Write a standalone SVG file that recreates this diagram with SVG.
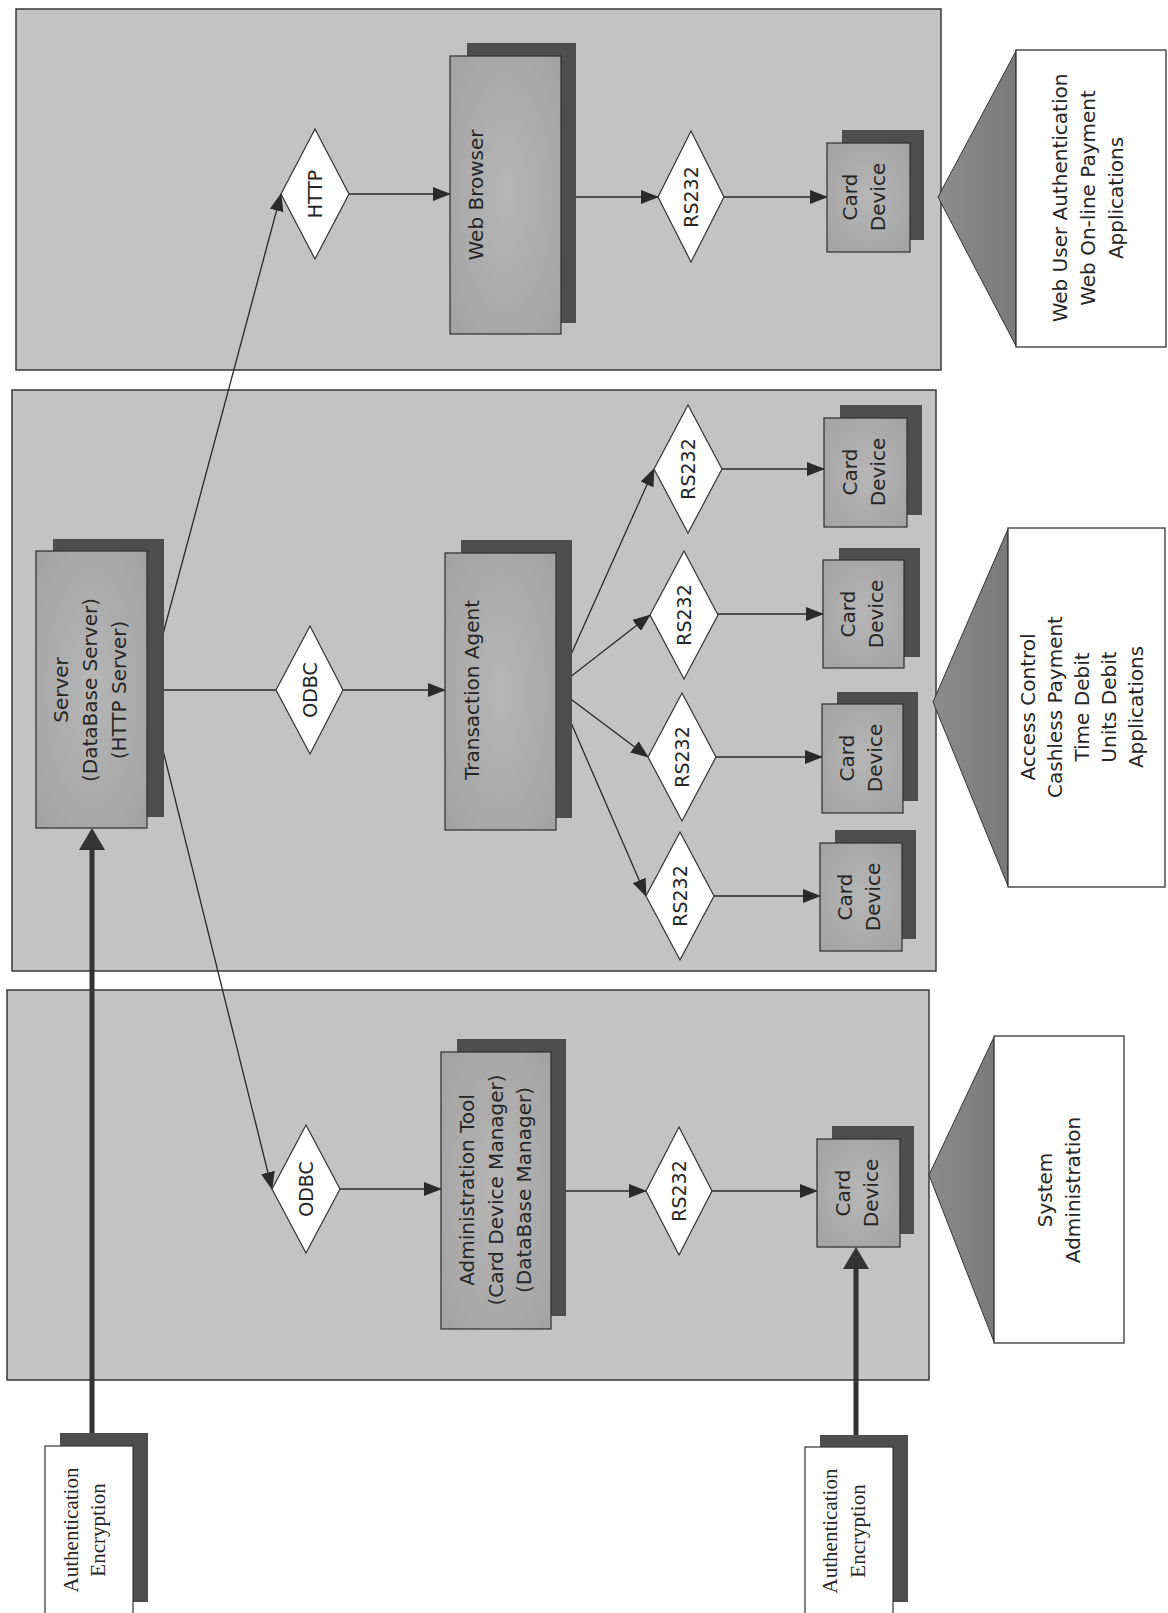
<svg xmlns="http://www.w3.org/2000/svg" width="1168" height="1613" viewBox="0 0 1168 1613">
<defs>
<style>
.panel{fill:#c3c3c3;stroke:#3a3a3a;stroke-width:1.5}
.front{fill:url(#boxg);stroke:#2e2e2e;stroke-width:1.2}
.shadow{fill:#4e4e4e;stroke:none}
.diamond{fill:#ffffff;stroke:#333;stroke-width:1.2}
.conn{fill:none;stroke:#2a2a2a;stroke-width:1.3}
.thick{fill:none;stroke:#333;stroke-width:5}
.cbox{fill:#ffffff;stroke:#333;stroke-width:1.3}
.tri{fill:url(#trig);stroke:#333;stroke-width:1}
.wbox{fill:#ffffff;stroke:#333;stroke-width:1.2}
.lbl{font-family:"DejaVu Sans",Verdana,sans-serif;font-size:20px;fill:#262626;text-anchor:middle}
.dl{font-family:"DejaVu Sans",Verdana,sans-serif;font-size:19px;fill:#262626;text-anchor:middle}
.serif{font-family:"Liberation Serif","Times New Roman",serif;font-size:21px;fill:#262626;text-anchor:middle}
</style>
<radialGradient id="boxg" cx="0.5" cy="0.5" r="0.7">
<stop offset="0" stop-color="#b6b6b6"/>
<stop offset="1" stop-color="#a2a2a2"/>
</radialGradient>
<linearGradient id="trig" x1="0" y1="0" x2="1" y2="0">
<stop offset="0" stop-color="#8c8c8c"/>
<stop offset="1" stop-color="#7a7a7a"/>
</linearGradient>
<marker id="arr" markerUnits="userSpaceOnUse" markerWidth="18" markerHeight="14" refX="17" refY="7" orient="auto">
<path d="M0,0 L18,7 L0,14 z" fill="#2a2a2a"/>
</marker>
<marker id="arrBig" markerUnits="userSpaceOnUse" markerWidth="22" markerHeight="26" refX="16" refY="13" orient="auto">
<path d="M0,0 L22,13 L0,26 z" fill="#333"/>
</marker>
</defs>
<rect x="0" y="0" width="1168" height="1613" fill="#ffffff"/>

<g id="panels">
<rect id="panel-web" class="panel" x="16" y="9" width="925" height="361"/>
<rect id="panel-apps" class="panel" x="12" y="390" width="924" height="581"/>
<rect id="panel-admin" class="panel" x="7" y="990" width="922" height="390"/>
</g>

<g id="connectors">
<line class="conn" x1="148" y1="690" x2="281" y2="194" marker-end="url(#arr)"/>
<line class="conn" x1="349" y1="194" x2="450" y2="194" marker-end="url(#arr)"/>
<line class="conn" x1="561" y1="197" x2="658" y2="197" marker-end="url(#arr)"/>
<line class="conn" x1="724" y1="197" x2="827" y2="197" marker-end="url(#arr)"/>
<line class="conn" x1="147" y1="690" x2="276" y2="690"/>
<line class="conn" x1="343" y1="690" x2="445" y2="690" marker-end="url(#arr)"/>
<line class="conn" x1="556" y1="688" x2="654" y2="469" marker-end="url(#arr)"/>
<line class="conn" x1="556" y1="688" x2="650" y2="615" marker-end="url(#arr)"/>
<line class="conn" x1="556" y1="688" x2="648" y2="757" marker-end="url(#arr)"/>
<line class="conn" x1="556" y1="688" x2="646" y2="896" marker-end="url(#arr)"/>
<line class="conn" x1="722" y1="469" x2="824" y2="469" marker-end="url(#arr)"/>
<line class="conn" x1="718" y1="614" x2="823" y2="614" marker-end="url(#arr)"/>
<line class="conn" x1="716" y1="757" x2="822" y2="757" marker-end="url(#arr)"/>
<line class="conn" x1="714" y1="896" x2="820" y2="896" marker-end="url(#arr)"/>
<line class="conn" x1="148" y1="690" x2="272" y2="1189" marker-end="url(#arr)"/>
<line class="conn" x1="340" y1="1189" x2="441" y2="1189" marker-end="url(#arr)"/>
<line class="conn" x1="551" y1="1191" x2="646" y2="1191" marker-end="url(#arr)"/>
<line class="conn" x1="712" y1="1191" x2="817" y2="1191" marker-end="url(#arr)"/>
<line class="thick" x1="92" y1="1434" x2="92" y2="834" marker-end="url(#arrBig)"/>
<line class="thick" x1="856" y1="1436" x2="856" y2="1253" marker-end="url(#arrBig)"/>
</g>

<g id="node-http">
<polygon class="diamond" points="315,129 349,194 315,259 281,194"/>
<text class="dl" transform="translate(315,194) rotate(-90)" x="0" y="7">HTTP</text>
</g>

<g id="node-webbrowser">
<rect class="shadow" x="467" y="43" width="109" height="280"/>
<rect class="front" x="450" y="56" width="111" height="278"/>
<text class="lbl" transform="translate(476,195) rotate(-90)" x="0" y="7">Web Browser</text>
</g>

<g id="node-rs232-web">
<polygon class="diamond" points="691,131 724,197 691,262 658,197"/>
<text class="dl" transform="translate(691,197) rotate(-90)" x="0" y="7">RS232</text>
</g>

<g id="node-card-web">
<rect class="shadow" x="842" y="130" width="82" height="110"/>
<rect class="front" x="827" y="143" width="83" height="109"/>
<text class="lbl" transform="translate(864,197) rotate(-90)"><tspan x="0" y="-7">Card</tspan><tspan x="0" y="21">Device</tspan></text>
</g>

<g id="callout-web">
<polygon class="tri" points="938,197 1016,51 1016,346"/>
<rect class="cbox" x="1016" y="50" width="150" height="297"/>
<text class="lbl" transform="translate(1088,198) rotate(-90)"><tspan x="0" y="-21">Web User Authentication</tspan><tspan x="0" y="7">Web On-line Payment</tspan><tspan x="0" y="35">Applications</tspan></text>
</g>

<g id="node-server">
<rect class="shadow" x="53" y="539" width="111" height="278"/>
<rect class="front" x="36" y="551" width="111" height="277"/>
<text class="lbl" transform="translate(90,690) rotate(-90)"><tspan x="0" y="-22">Server</tspan><tspan x="0" y="7">(DataBase Server)</tspan><tspan x="0" y="36">(HTTP Server)</tspan></text>
</g>

<g id="node-odbc-apps">
<polygon class="diamond" points="310,626 343,690 310,754 276,690"/>
<text class="dl" transform="translate(310,690) rotate(-90)" x="0" y="7">ODBC</text>
</g>

<g id="node-transaction-agent">
<rect class="shadow" x="461" y="540" width="111" height="278"/>
<rect class="front" x="445" y="553" width="111" height="277"/>
<text class="lbl" transform="translate(472,690) rotate(-90)" x="0" y="7">Transaction Agent</text>
</g>

<g id="node-rs232-a1">
<polygon class="diamond" points="688,405 722,469 688,533 654,469"/>
<text class="dl" transform="translate(688,469) rotate(-90)" x="0" y="7">RS232</text>
</g>
<g id="node-rs232-a2">
<polygon class="diamond" points="684,551 718,615 684,679 650,615"/>
<text class="dl" transform="translate(684,615) rotate(-90)" x="0" y="7">RS232</text>
</g>
<g id="node-rs232-a3">
<polygon class="diamond" points="682,693 716,757 682,821 648,757"/>
<text class="dl" transform="translate(682,757) rotate(-90)" x="0" y="7">RS232</text>
</g>
<g id="node-rs232-a4">
<polygon class="diamond" points="680,832 714,896 680,960 646,896"/>
<text class="dl" transform="translate(680,896) rotate(-90)" x="0" y="7">RS232</text>
</g>

<g id="node-card-a1">
<rect class="shadow" x="840" y="405" width="82" height="110"/>
<rect class="front" x="824" y="418" width="83" height="109"/>
<text class="lbl" transform="translate(864,472) rotate(-90)"><tspan x="0" y="-7">Card</tspan><tspan x="0" y="21">Device</tspan></text>
</g>
<g id="node-card-a2">
<rect class="shadow" x="839" y="548" width="81" height="109"/>
<rect class="front" x="823" y="560" width="81" height="108"/>
<text class="lbl" transform="translate(862,614) rotate(-90)"><tspan x="0" y="-7">Card</tspan><tspan x="0" y="21">Device</tspan></text>
</g>
<g id="node-card-a3">
<rect class="shadow" x="837" y="692" width="81" height="109"/>
<rect class="front" x="822" y="704" width="81" height="109"/>
<text class="lbl" transform="translate(861,758) rotate(-90)"><tspan x="0" y="-7">Card</tspan><tspan x="0" y="21">Device</tspan></text>
</g>
<g id="node-card-a4">
<rect class="shadow" x="835" y="830" width="81" height="109"/>
<rect class="front" x="820" y="843" width="82" height="108"/>
<text class="lbl" transform="translate(859,897) rotate(-90)"><tspan x="0" y="-7">Card</tspan><tspan x="0" y="21">Device</tspan></text>
</g>

<g id="callout-apps">
<polygon class="tri" points="933,702 1008,529 1008,886"/>
<rect class="cbox" x="1008" y="528" width="157" height="359"/>
<text class="lbl" transform="translate(1082,707) rotate(-90)"><tspan x="0" y="-47">Access Control</tspan><tspan x="0" y="-20">Cashless Payment</tspan><tspan x="0" y="7">Time Debit</tspan><tspan x="0" y="34">Units Debit</tspan><tspan x="0" y="61">Applications</tspan></text>
</g>

<g id="node-odbc-admin">
<polygon class="diamond" points="306,1125 340,1189 306,1253 272,1189"/>
<text class="dl" transform="translate(306,1189) rotate(-90)" x="0" y="7">ODBC</text>
</g>

<g id="node-admin-tool">
<rect class="shadow" x="457" y="1039" width="109" height="277"/>
<rect class="front" x="441" y="1052" width="110" height="277"/>
<text class="lbl" transform="translate(496,1190) rotate(-90)"><tspan x="0" y="-22">Administration Tool</tspan><tspan x="0" y="7">(Card Device Manager)</tspan><tspan x="0" y="35">(DataBase Manager)</tspan></text>
</g>

<g id="node-rs232-admin">
<polygon class="diamond" points="679,1127 712,1191 679,1255 646,1191"/>
<text class="dl" transform="translate(679,1191) rotate(-90)" x="0" y="7">RS232</text>
</g>

<g id="node-card-admin">
<rect class="shadow" x="832" y="1126" width="82" height="108"/>
<rect class="front" x="817" y="1139" width="83" height="108"/>
<text class="lbl" transform="translate(857,1193) rotate(-90)"><tspan x="0" y="-7">Card</tspan><tspan x="0" y="21">Device</tspan></text>
</g>

<g id="callout-admin">
<polygon class="tri" points="929,1175 994,1037 994,1342"/>
<rect class="cbox" x="994" y="1036" width="130" height="307"/>
<text class="lbl" transform="translate(1059,1190) rotate(-90)"><tspan x="0" y="-7">System</tspan><tspan x="0" y="21">Administration</tspan></text>
</g>

<g id="node-auth-1">
<rect class="shadow" x="60" y="1433" width="88" height="169"/>
<rect class="wbox" x="45" y="1446" width="88" height="180"/>
<text class="serif" transform="translate(84,1530) rotate(-90)"><tspan x="0" y="-6">Authentication</tspan><tspan x="0" y="21">Encryption</tspan></text>
</g>

<g id="node-auth-2">
<rect class="shadow" x="820" y="1435" width="88" height="167"/>
<rect class="wbox" x="805" y="1447" width="88" height="180"/>
<text class="serif" transform="translate(844,1531) rotate(-90)"><tspan x="0" y="-7">Authentication</tspan><tspan x="0" y="21">Encryption</tspan></text>
</g>
</svg>
